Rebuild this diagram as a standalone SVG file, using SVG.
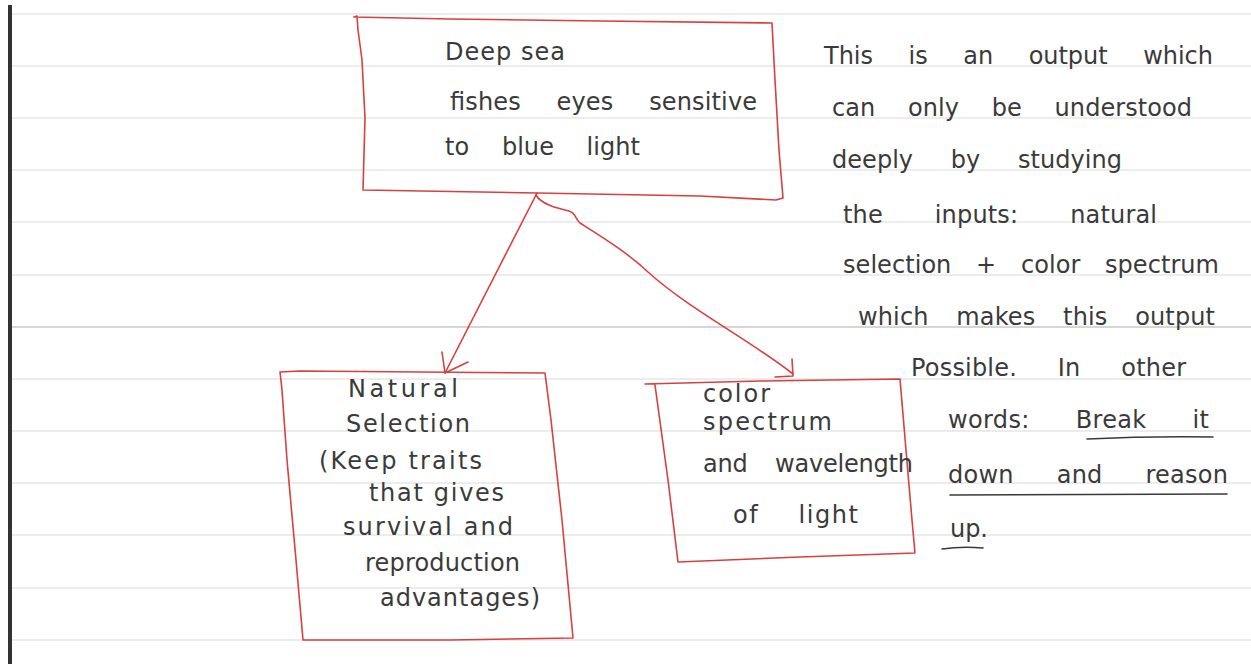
<svg xmlns="http://www.w3.org/2000/svg" width="1251" height="664" viewBox="0 0 1251 664">
<style>
.rule{stroke:#ececec;stroke-width:2;fill:none}
.rule.dark{stroke:#d6d6d6}
.box{fill:none;stroke:#d8403f;stroke-width:1.6;stroke-linejoin:round;stroke-linecap:round}
.conn{fill:none;stroke:#d8403f;stroke-width:1.6;stroke-linejoin:round;stroke-linecap:round}
.t{font-family:"DejaVu Sans","Liberation Sans",sans-serif;font-size:24px;fill:#3a3a3a}
.ul{fill:none;stroke:#3a3a3a;stroke-width:1.6;stroke-linecap:round}
</style>
<rect width="1251" height="664" fill="#ffffff"/>
<g id="paper">
<rect x="8" y="5" width="4" height="659" fill="#333333"/>
<path class="rule" d="M12,14H1251M12,66H1251M12,118H1251M12,170H1251M12,222H1251M12,275H1251M12,379H1251M12,431H1251M12,483H1251M12,535H1251M12,588H1251M12,640H1251"/>
<path class="rule dark" d="M12,327H1251"/>
</g>
<g id="connectors">
<path class="conn" d="M537,193 L445,373"/>
<path class="conn" d="M442,352 L445,373 L468,362"/>
<path class="conn" d="M536,195 C541,204 556,208 569,211 C576,213 575,219 580,223 C602,237 628,253 648,272 C690,310 750,340 793,374"/>
<path class="conn" d="M775,377 L793,376 L792,359"/>
</g>
<g id="node-deep-sea">
<path class="box" d="M357,16 L354,17 L450,19 L600,21 L772,23 L775,80 L779,150 L783,198 L776,200 L700,196 L537,193 L363,190 L365,118 L362,60 L358,30 Z"/>
<text class="t" x="445" y="60" textLength="120" lengthAdjust="spacing">Deep sea</text>
<text class="t" x="450" y="110" word-spacing="28" textLength="307" lengthAdjust="spacing">fishes eyes sensitive</text>
<text class="t" x="445" y="155" word-spacing="25" textLength="195" lengthAdjust="spacing">to blue light</text>
</g>
<g id="node-natural-selection">
<path class="box" d="M280,372 L300,371 L420,372 L545,373 L551,420 L562,520 L573,638 L450,640 L303,640 L296,560 L287,460 L282,390 Z"/>
<text class="t" x="348" y="397" textLength="110" lengthAdjust="spacing">Natural</text>
<text class="t" x="346" y="432" textLength="124" lengthAdjust="spacing">Selection</text>
<text class="t" x="319" y="469" textLength="163" lengthAdjust="spacing">(Keep traits</text>
<text class="t" x="369" y="501" textLength="135" lengthAdjust="spacing">that gives</text>
<text class="t" x="343" y="535" textLength="170" lengthAdjust="spacing">survival and</text>
<text class="t" x="365" y="571" textLength="155" lengthAdjust="spacing">reproduction</text>
<text class="t" x="380" y="606" textLength="160" lengthAdjust="spacing">advantages)</text>
</g>
<g id="node-color-spectrum">
<path class="box" d="M645,384 L760,381 L900,379 L906,450 L912,520 L915,553 L800,557 L678,562 L668,480 L655,385"/>
<text class="t" x="703" y="402" textLength="67" lengthAdjust="spacing">color</text>
<text class="t" x="703" y="430" textLength="129" lengthAdjust="spacing">spectrum</text>
<text class="t" x="703" y="472" word-spacing="20" textLength="210" lengthAdjust="spacing">and wavelength</text>
<text class="t" x="733" y="523" word-spacing="30" textLength="125" lengthAdjust="spacing">of light</text>
</g>
<g id="note">
<text class="t" x="824" y="64" word-spacing="28" textLength="389" lengthAdjust="spacing">This is an output which</text>
<text class="t" x="832" y="116" word-spacing="25" textLength="360" lengthAdjust="spacing">can only be understood</text>
<text class="t" x="832" y="168" word-spacing="30" textLength="290" lengthAdjust="spacing">deeply by studying</text>
<text class="t" x="843" y="223" word-spacing="44" textLength="314" lengthAdjust="spacing">the inputs: natural</text>
<text class="t" x="843" y="273" word-spacing="17" textLength="376" lengthAdjust="spacing">selection + color spectrum</text>
<text class="t" x="858" y="325" word-spacing="20" textLength="357" lengthAdjust="spacing">which makes this output</text>
<text class="t" x="911" y="376" word-spacing="33" textLength="275" lengthAdjust="spacing">Possible. In other</text>
<text class="t" x="948" y="428" word-spacing="38" textLength="261" lengthAdjust="spacing">words: Break it</text>
<text class="t" x="948" y="483" word-spacing="35" textLength="280" lengthAdjust="spacing">down and reason</text>
<text class="t" x="950" y="537" textLength="38" lengthAdjust="spacing">up.</text>
<path class="ul" d="M1087,439 Q1150,436 1213,437"/>
<path class="ul" d="M950,495 L1227,494"/>
<path class="ul" d="M942,549 Q962,546 983,548"/>
</g>
</svg>
